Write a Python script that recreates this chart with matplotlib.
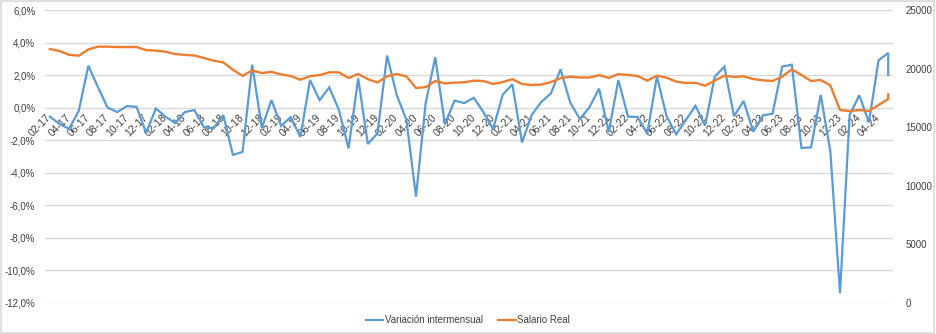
import matplotlib
matplotlib.use("Agg")
import matplotlib.pyplot as plt
from matplotlib.patches import Rectangle
from matplotlib.ticker import FuncFormatter, MultipleLocator
import pandas as pd

# Monthly categories 02-17 .. 05-24; May-24 carries two observations
meses = list(pd.period_range("2017-02", "2024-05", freq="M").strftime("%m-%y"))
periodos = meses + [meses[-1]]

# Month-on-month variation of the real wage (%)
variacion = [
    -0.55, -1.0, -1.3, -0.2, 2.58, 1.25, 0.0, -0.27, 0.1, 0.05,
    -1.55, -0.05, -0.55, -0.95, -0.27, -0.15, -1.2, -1.27, -0.45, -2.9,
    -2.72, 2.64, -1.25, 0.47, -1.12, -0.58, -1.8, 1.7, 0.46, 1.25,
    -0.14, -2.5, 1.8, -2.23, -1.58, 3.2, 0.78, -0.74, -5.47, 0.27,
    3.1, -1.03, 0.44, 0.28, 0.61, -0.28, -1.32, 0.8, 1.43, -2.14,
    -0.45, 0.35, 0.88, 2.35, 0.32, -0.7, 0.03, 1.17, -1.5, 1.7,
    -0.55, -0.57, -1.6, 1.92, -0.52, -1.64, -0.76, 0.11, -1.1, 1.9,
    2.52, -0.52, 0.41, -1.47, -0.47, -0.37, 2.52, 2.64, -2.48, -2.43,
    0.78, -2.7, -11.4, -0.45, 0.76, -0.9, 2.91, 3.36, 2.0,
]

# Real wage level (right axis)
salario_real = [
    21670, 21500, 21180, 21100, 21640, 21870, 21870, 21840, 21840, 21840,
    21580, 21530, 21440, 21240, 21170, 21120, 20900, 20680, 20530, 19900,
    19380, 19850, 19620, 19720, 19500, 19370, 19050, 19350, 19450, 19680,
    19680, 19200, 19540, 19100, 18810, 19340, 19540, 19340, 18350, 18420,
    18940, 18740, 18800, 18830, 18970, 18940, 18685, 18850, 19100, 18685,
    18600, 18640, 18850, 19180, 19310, 19240, 19240, 19440, 19210, 19530,
    19455, 19370, 18970, 19400, 19225, 18890, 18770, 18790, 18540, 18970,
    19400, 19290, 19340, 19110, 19000, 18940, 19310, 19935, 19455, 18940,
    19030, 18560, 16470, 16380, 16470, 16380, 16895, 17400, 17800,
]

etiquetas = meses[::2]

AZUL = "#5B9BD5"
NARANJA = "#ED7D31"
GRIS = "#D9D9D9"
TEXTO = "#404040"

plt.rcParams["font.family"] = ["Liberation Sans", "DejaVu Sans"]

fig = plt.figure(figsize=(9.36, 3.34), dpi=100)
ax = fig.add_axes([45 / 936, 1 - 303 / 334, (893 - 45) / 936, 293 / 334])
ax2 = ax.twinx()

idx = {m: i for i, m in enumerate(meses)}
x = [idx[p] for p in periodos]

l1, = ax.plot(x, variacion, color=AZUL, lw=1.6, solid_joinstyle="miter",
              label="Variación intermensual", zorder=3)
l2, = ax2.plot(x, salario_real, color=NARANJA, lw=1.7,
               label="Salario Real", zorder=3)

ax.set_xlim(-0.5, len(meses) - 0.5)
ax.set_ylim(-12, 6)
ax.yaxis.set_major_locator(MultipleLocator(2))
ax.yaxis.set_major_formatter(
    FuncFormatter(lambda v, _: f"{v:.1f}%".replace(".", ","))
)
ax.grid(axis="y", color=GRIS, lw=1.0)
ax.set_axisbelow(True)

ax2.set_ylim(0, 25000)
ax2.yaxis.set_major_locator(MultipleLocator(5000))

# Category labels sit on the 0% line
ax.spines["bottom"].set_position(("data", 0))
ax.set_xticks(range(0, len(meses), 2))
ax.set_xticklabels(etiquetas, rotation=45, ha="right", va="center",
                   rotation_mode="anchor")

for a in (ax, ax2):
    for s in a.spines.values():
        s.set_visible(False)
    a.tick_params(length=0, labelsize=7, colors=TEXTO)
ax.tick_params(axis="x", pad=6, labelsize=7.5)
ax.tick_params(axis="y", pad=7)
ax2.tick_params(axis="y", pad=9)

fig.legend(handles=[l1, l2], loc="center", bbox_to_anchor=(0.5, 1 - 320 / 334),
           ncol=2, frameon=False, fontsize=7, handlelength=1.8,
           handletextpad=0.15, columnspacing=1.6, labelcolor=TEXTO)

fig.patches.append(Rectangle((0.001, 0.002), 0.997, 0.995, transform=fig.transFigure,
                             fill=False, ec=GRIS, lw=1.2))

fig.savefig("out.png", dpi=100, facecolor="white")
